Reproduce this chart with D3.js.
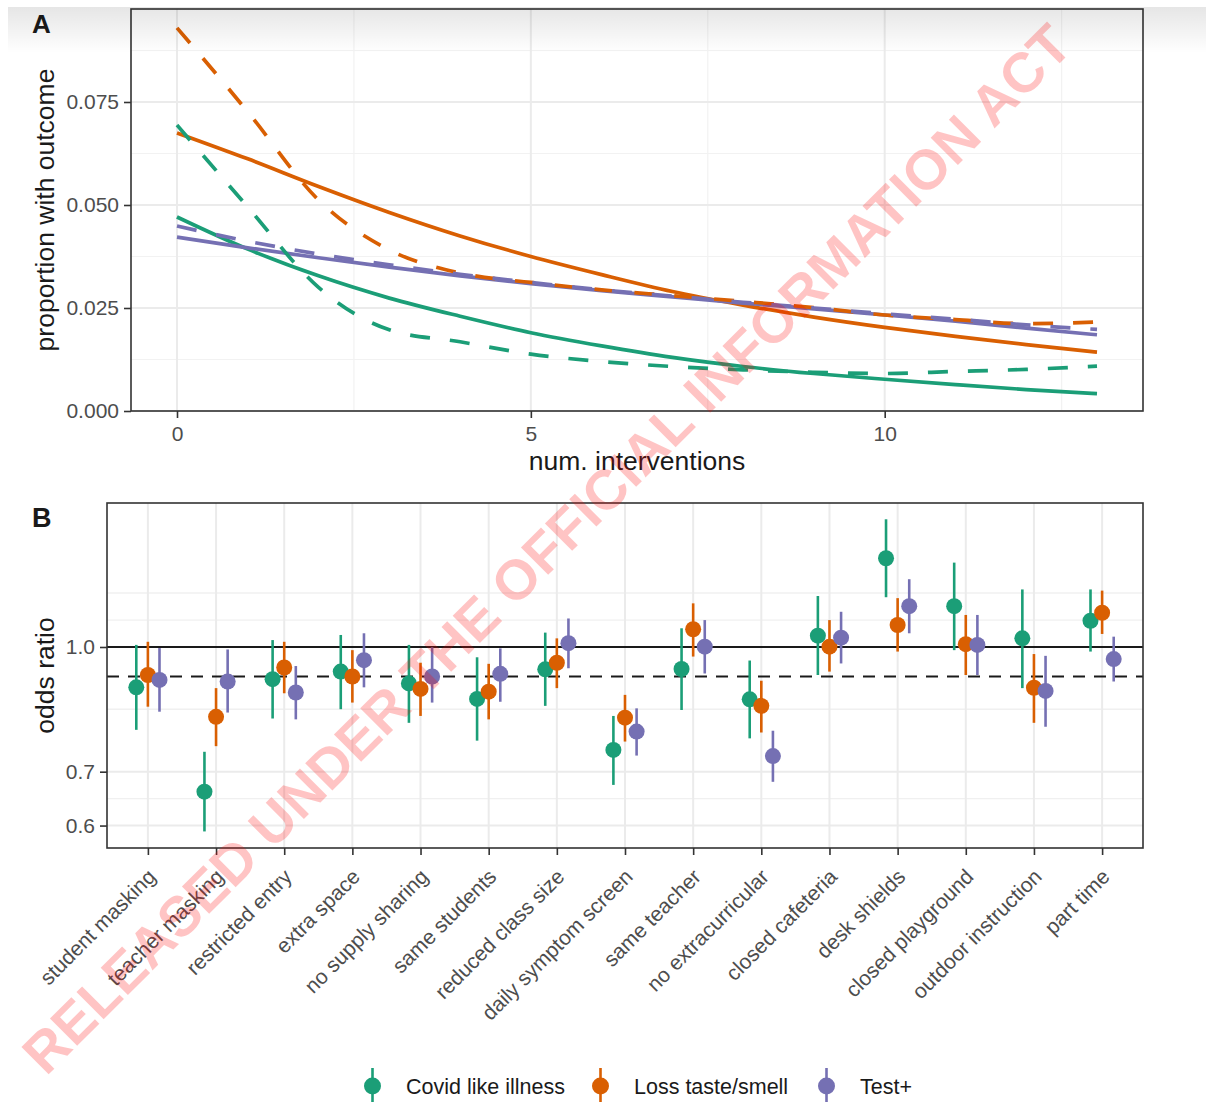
<!DOCTYPE html>
<html><head><meta charset="utf-8">
<script src="https://cdn.jsdelivr.net/npm/d3@7"></script>
<style>
body{margin:0;background:#fff}
svg{display:block}
text{font-family:"Liberation Sans",Arial,Helvetica,sans-serif}
</style>
</head><body>
<svg id="c" width="1206" height="1102"></svg>
<script>
// ---------- Panel A data ----------
const numInterventions = [0,1,2,3,4,5,6,7,8,9,10,11,12,13];
const cliSolid    = [0.0471,0.0393,0.0328,0.0274,0.0230,0.0190,0.0158,0.0130,0.0108,0.0091,0.0077,0.0064,0.0052,0.0042];
const cliDashed   = [0.0694,0.0495,0.0300,0.0197,0.0168,0.0138,0.0120,0.0108,0.0100,0.0094,0.0091,0.0096,0.0101,0.0109];
const lossSolid   = [0.0675,0.0612,0.0545,0.0482,0.0425,0.0375,0.0331,0.0290,0.0257,0.0228,0.0203,0.0181,0.0161,0.0143];
const lossDashed  = [0.0930,0.0726,0.0512,0.0391,0.0335,0.0312,0.0294,0.0280,0.0266,0.0251,0.0233,0.0222,0.0212,0.0216];
const testSolid   = [0.0422,0.0396,0.0372,0.0349,0.0328,0.0309,0.0292,0.0277,0.0262,0.0248,0.0233,0.0218,0.0201,0.0185];
const testDashed  = [0.0449,0.0412,0.0381,0.0355,0.0332,0.0312,0.0294,0.0279,0.0264,0.0250,0.0236,0.0223,0.0209,0.0198];
const yTicksA = [0, 0.025, 0.05, 0.075];
const yMinorA = [0.0125, 0.0375, 0.0625, 0.0875];
const xTicksA = [0, 5, 10];
const xMinorA = [2.5, 7.5, 12.5];

// ---------- Panel B data ----------
const categories = ["student masking","teacher masking","restricted entry","extra space","no supply sharing","same students","reduced class size","daily symptom screen","same teacher","no extracurricular","closed cafeteria","desk shields","closed playground","outdoor instruction","part time"];
const seriesNames = ["Covid like illness","Loss taste/smell","Test+"];
const cliEst = [0.891,0.661,0.912,0.932,0.901,0.862,0.938,0.745,0.939,0.861,1.033,1.289,1.124,1.025,1.078];
const cliLo  = [0.789,0.590,0.815,0.837,0.805,0.765,0.845,0.674,0.835,0.770,0.923,1.153,0.991,0.889,0.987];
const cliHi  = [1.006,0.741,1.020,1.035,1.006,0.971,1.042,0.821,1.055,0.962,1.157,1.441,1.273,1.179,1.179];
const lossEst = [0.923,0.819,0.943,0.919,0.887,0.880,0.956,0.817,1.052,0.845,1.001,1.065,1.008,0.890,1.103];
const lossLo  = [0.843,0.753,0.876,0.853,0.821,0.813,0.889,0.763,0.973,0.783,0.932,0.987,0.923,0.805,1.038];
const lossHi  = [1.015,0.889,1.015,0.991,0.956,0.953,1.025,0.872,1.133,0.908,1.080,1.150,1.096,0.980,1.175];
const testEst = [0.910,0.906,0.878,0.963,0.919,0.926,1.011,0.785,1.001,0.732,1.027,1.124,1.006,0.882,0.966];
const testLo  = [0.831,0.829,0.813,0.891,0.853,0.855,0.941,0.733,0.927,0.680,0.954,1.040,0.923,0.796,0.906];
const testHi  = [0.997,0.993,0.947,1.040,0.999,0.996,1.085,0.839,1.080,0.787,1.106,1.214,1.096,0.975,1.030];
const yTicksB = [0.6, 0.7, 1.0];
const yGridB = [0.6, 0.648, 0.7, 0.837, 1.0, 1.08, 1.167];
const refLineSolid = 1.0;
const refLineDashed = 0.919;

const colors = ["#1B9E77","#D95F02","#7570B3"];

const svg = d3.select("#c");
const gridCol = "#ebebeb", frameCol = "#333333", tickTextCol = "#4d4d4d";

// ================= Panel A =================
const A = {l:131, r:1143, t:9, b:411};
const xA = d3.scaleLinear().domain([-0.65, 13.65]).range([A.l, A.r]);
const yA = d3.scaleLinear().domain([0, 0.09757]).range([A.b, A.t]);
const gA = svg.append("g");
gA.append("rect").attr("x",A.l).attr("y",A.t).attr("width",A.r-A.l).attr("height",A.b-A.t).attr("fill","#fff");
yMinorA.forEach(v=>gA.append("line").attr("x1",A.l).attr("x2",A.r).attr("y1",yA(v)).attr("y2",yA(v)).attr("stroke","#f2f2f2").attr("stroke-width",1.2));
xMinorA.forEach(v=>gA.append("line").attr("y1",A.t).attr("y2",A.b).attr("x1",xA(v)).attr("x2",xA(v)).attr("stroke","#f2f2f2").attr("stroke-width",1.2));
yTicksA.forEach(v=>gA.append("line").attr("x1",A.l).attr("x2",A.r).attr("y1",yA(v)).attr("y2",yA(v)).attr("stroke",gridCol).attr("stroke-width",2));
xTicksA.forEach(v=>gA.append("line").attr("y1",A.t).attr("y2",A.b).attr("x1",xA(v)).attr("x2",xA(v)).attr("stroke",gridCol).attr("stroke-width",2));

const lineA = d3.line().x((d,i)=>xA(numInterventions[i])).y(d=>yA(d)).curve(d3.curveMonotoneX);
const seriesA = [
  {v:cliSolid, c:colors[0], dash:null},
  {v:lossSolid, c:colors[1], dash:null},
  {v:testSolid, c:colors[2], dash:null},
  {v:cliDashed, c:colors[0], dash:"20,20"},
  {v:lossDashed, c:colors[1], dash:"20,20"},
  {v:testDashed, c:colors[2], dash:"20,20"}
];
seriesA.forEach(s=>{
  gA.append("path").datum(s.v).attr("d",lineA).attr("fill","none").attr("stroke",s.c)
    .attr("stroke-width",3.7).attr("stroke-dasharray",s.dash);
});
gA.append("rect").attr("x",A.l).attr("y",A.t).attr("width",A.r-A.l).attr("height",A.b-A.t)
  .attr("fill","none").attr("stroke",frameCol).attr("stroke-width",1.6);

function styleAxis(g){
  g.select(".domain").remove();
  g.selectAll(".tick line").attr("stroke",frameCol).attr("stroke-width",1.6);
  g.selectAll(".tick text").attr("fill",tickTextCol).style("font-size","21px");
}
const axYA = gA.append("g").attr("transform",`translate(${A.l},0)`)
  .call(d3.axisLeft(yA).tickValues(yTicksA).tickFormat(d3.format(".3f")).tickSize(7).tickPadding(5));
styleAxis(axYA);
const axXA = gA.append("g").attr("transform",`translate(0,${A.b})`)
  .call(d3.axisBottom(xA).tickValues(xTicksA).tickFormat(d3.format("d")).tickSize(7).tickPadding(8));
styleAxis(axXA);

gA.append("text").attr("x",(A.l+A.r)/2).attr("y",470).attr("text-anchor","middle")
  .style("font-size","26.5px").attr("fill","#1a1a1a").text("num. interventions");
gA.append("text").attr("transform",`translate(54,${(A.t+A.b)/2}) rotate(-90)`).attr("text-anchor","middle")
  .style("font-size","26.5px").attr("fill","#1a1a1a").text("proportion with outcome");
svg.append("text").attr("x",32).attr("y",33).style("font-size","26px").style("font-weight","bold").attr("fill","#1a1a1a").text("A");

// ================= Panel B =================
const B = {l:107, r:1143, t:503, b:848};
const xB = d3.scalePoint().domain(categories).range([B.l, B.r]).padding(0.6);
const yB = d3.scaleLog().domain([0.5627, 1.5097]).range([B.b, B.t]);
const dodge = d3.scalePoint().domain(seriesNames).range([-11.6, 11.6]);
const gB = svg.append("g");
gB.append("rect").attr("x",B.l).attr("y",B.t).attr("width",B.r-B.l).attr("height",B.b-B.t).attr("fill","#fff");
yGridB.forEach(v=>{
  const major = yTicksB.includes(v);
  gB.append("line").attr("x1",B.l).attr("x2",B.r).attr("y1",yB(v)).attr("y2",yB(v))
    .attr("stroke", major? gridCol : "#f0f0f0").attr("stroke-width", major?2:1.4);
});
categories.forEach(c=>gB.append("line").attr("y1",B.t).attr("y2",B.b).attr("x1",xB(c)).attr("x2",xB(c)).attr("stroke",gridCol).attr("stroke-width",2));

gB.append("line").attr("x1",B.l).attr("x2",B.r).attr("y1",yB(refLineSolid)).attr("y2",yB(refLineSolid)).attr("stroke","#1a1a1a").attr("stroke-width",2.2);
gB.append("line").attr("x1",B.l).attr("x2",B.r).attr("y1",yB(refLineDashed)).attr("y2",yB(refLineDashed)).attr("stroke","#1a1a1a").attr("stroke-width",2.2).attr("stroke-dasharray","12,9");

const seriesB = [
  {name:seriesNames[0], est:cliEst, lo:cliLo, hi:cliHi, c:colors[0]},
  {name:seriesNames[1], est:lossEst, lo:lossLo, hi:lossHi, c:colors[1]},
  {name:seriesNames[2], est:testEst, lo:testLo, hi:testHi, c:colors[2]}
];
categories.forEach((cat,i)=>{
  seriesB.forEach(s=>{
    const x = xB(cat) + dodge(s.name);
    gB.append("line").attr("x1",x).attr("x2",x).attr("y1",yB(s.lo[i])).attr("y2",yB(s.hi[i]))
      .attr("stroke",s.c).attr("stroke-width",2.6);
    gB.append("circle").attr("cx",x).attr("cy",yB(s.est[i])).attr("r",8).attr("fill",s.c);
  });
});
gB.append("rect").attr("x",B.l).attr("y",B.t).attr("width",B.r-B.l).attr("height",B.b-B.t)
  .attr("fill","none").attr("stroke",frameCol).attr("stroke-width",1.6);

const axYB = gB.append("g").attr("transform",`translate(${B.l},0)`)
  .call(d3.axisLeft(yB).tickValues(yTicksB).tickFormat(d3.format(".1f")).tickSize(7).tickPadding(5));
styleAxis(axYB);
const axXB = gB.append("g").attr("transform",`translate(0,${B.b})`)
  .call(d3.axisBottom(xB).tickSize(7));
styleAxis(axXB);
axXB.selectAll(".tick text").attr("y",0).attr("dy",null).attr("text-anchor","end")
  .attr("transform","translate(8.5,30) rotate(-45)");

gB.append("text").attr("transform",`translate(54,${(B.t+B.b)/2}) rotate(-90)`).attr("text-anchor","middle")
  .style("font-size","26.5px").attr("fill","#1a1a1a").text("odds ratio");
svg.append("text").attr("x",32).attr("y",527).style("font-size","27px").style("font-weight","bold").attr("fill","#1a1a1a").text("B");

// Legend
const legendX = [372.5, 600.5, 826.5];
const legY = 1086;
seriesB.forEach((s,i)=>{
  const g = svg.append("g").attr("transform",`translate(${legendX[i]},${legY})`);
  g.append("line").attr("y1",-18).attr("y2",16).attr("stroke",s.c).attr("stroke-width",2.6);
  g.append("circle").attr("r",8.5).attr("fill",s.c);
  g.append("text").attr("x",33.5).attr("dy","0.36em").style("font-size","21.5px").attr("fill","#1a1a1a").text(s.name);
});

// Top screenshot shading
const defs = svg.append("defs");
const lg = defs.append("linearGradient").attr("id","shade").attr("x1",0).attr("x2",0).attr("y1",0).attr("y2",1);
lg.append("stop").attr("offset","0").attr("stop-color","#000").attr("stop-opacity",0.1);
lg.append("stop").attr("offset","1").attr("stop-color","#000").attr("stop-opacity",0);
svg.append("rect").attr("x",8).attr("y",7).attr("width",1198).attr("height",46).attr("fill","url(#shade)");

// Watermark
svg.append("text").attr("transform","translate(46,1077) rotate(-45)")
  .style("font-size","56px").style("font-weight","bold").attr("fill","#ff0000").attr("fill-opacity",0.23)
  .text("RELEASED UNDER THE OFFICIAL INFORMATION ACT");
</script>
</body></html>
